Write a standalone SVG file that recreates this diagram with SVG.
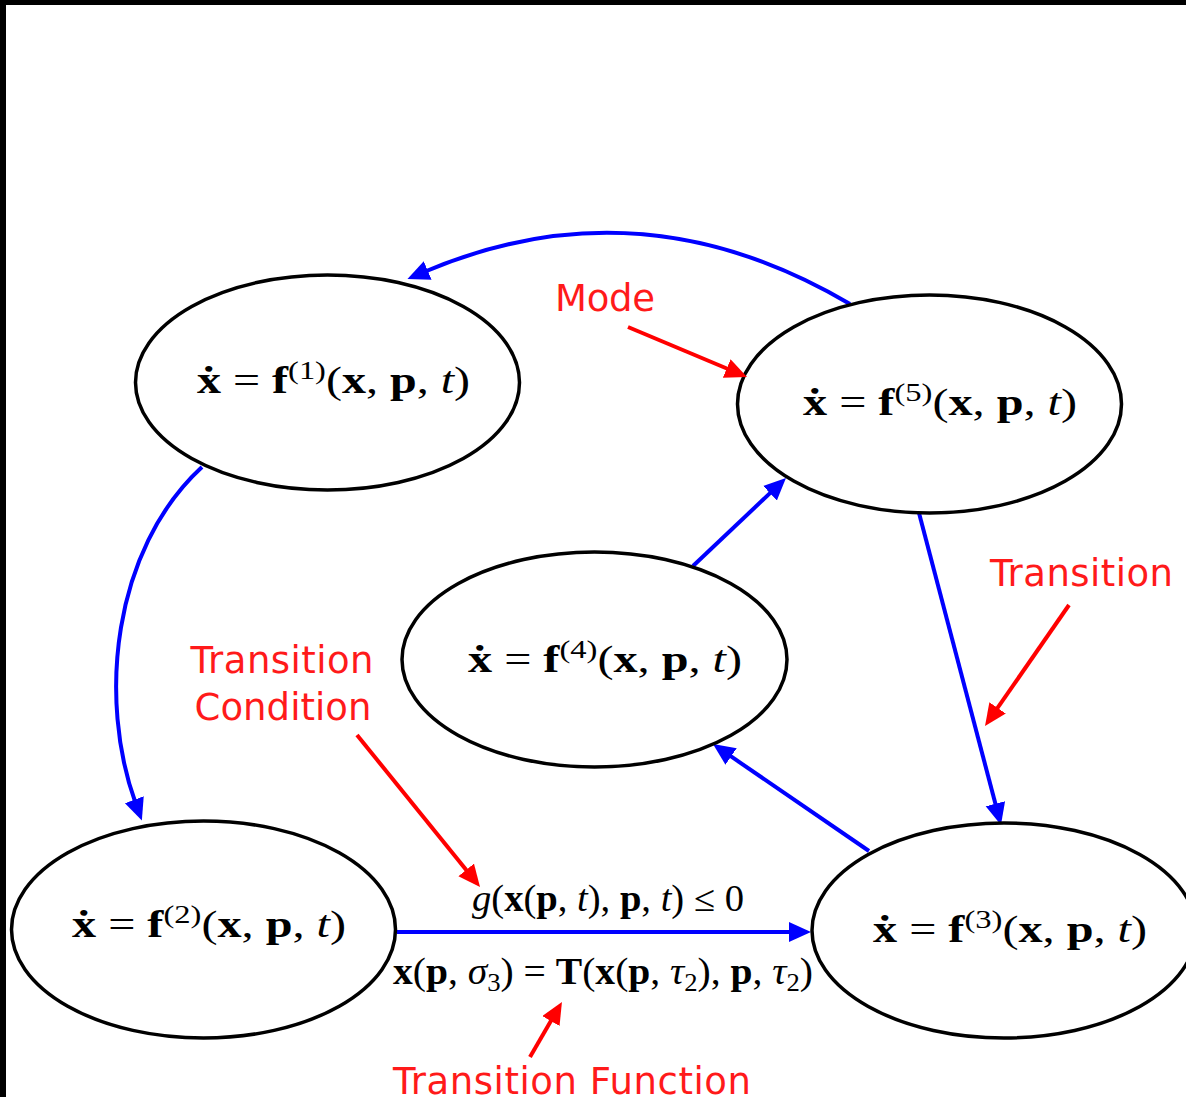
<svg xmlns="http://www.w3.org/2000/svg" width="1186" height="1097" viewBox="0 0 1186 1097">
<style>
.node ellipse{fill:#fff;stroke:#000;stroke-width:3.5}
.math{font-family:"Liberation Serif","DejaVu Serif",serif;font-size:37px;fill:#000}
.b{font-weight:bold}
.i{font-style:italic}
.sup{font-size:25px}
.sub{font-size:25px}
.lbl{font-family:"DejaVu Sans",Verdana,sans-serif;font-size:37px;fill:#ff1a1a}
.edge{fill:none;stroke:#0000ff;stroke-width:4}
.note{fill:none;stroke:#ff0000;stroke-width:4}
</style>
<defs>
<marker id="ab" markerUnits="userSpaceOnUse" markerWidth="24" markerHeight="22" refX="4" refY="10" orient="auto" viewBox="0 0 24 22"><path d="M0,0 L22,10 L0,20 z" fill="#0000ff"/></marker>
<marker id="ar" markerUnits="userSpaceOnUse" markerWidth="24" markerHeight="22" refX="4" refY="10" orient="auto" viewBox="0 0 24 22"><path d="M0,0 L22,10 L0,20 z" fill="#ff0000"/></marker>
</defs>
<rect x="0" y="0" width="1186" height="1097" fill="#fff"/>
<rect x="0" y="0" width="1186" height="5" fill="#000"/>
<rect x="0" y="0" width="6" height="1097" fill="#000"/>

<g id="connectors">
<path class="edge" d="M850,304 Q640,180 424,272" marker-end="url(#ab)"/>
<path class="edge" d="M202,467 C112,550 98,700 135.7,803.5" marker-end="url(#ab)"/>
<path class="edge" d="M397,932 L793,932" marker-end="url(#ab)"/>
<path class="edge" d="M869,851 L727.8,754.2" marker-end="url(#ab)"/>
<path class="edge" d="M693,566 L772.9,490.4" marker-end="url(#ab)"/>
<path class="edge" d="M919,513 L996.4,807.6" marker-end="url(#ab)"/>
</g>

<g id="node1" class="node"><ellipse cx="327.5" cy="382.5" rx="192" ry="107.5"/>
<text class="math" x="197" y="393" textLength="273" lengthAdjust="spacingAndGlyphs"><tspan class="b">ẋ</tspan> = <tspan class="b">f</tspan><tspan class="sup" dy="-14">(1)</tspan><tspan dy="14">(</tspan><tspan class="b">x</tspan>, <tspan class="b">p</tspan>, <tspan class="i">t</tspan>)</text></g>

<g id="node2" class="node"><ellipse cx="203.5" cy="929.5" rx="192" ry="108.5"/>
<text class="math" x="72" y="937" textLength="274" lengthAdjust="spacingAndGlyphs"><tspan class="b">ẋ</tspan> = <tspan class="b">f</tspan><tspan class="sup" dy="-14">(2)</tspan><tspan dy="14">(</tspan><tspan class="b">x</tspan>, <tspan class="b">p</tspan>, <tspan class="i">t</tspan>)</text></g>

<g id="node3" class="node"><ellipse cx="1004" cy="930.5" rx="192" ry="107.5"/>
<text class="math" x="873" y="942" textLength="274" lengthAdjust="spacingAndGlyphs"><tspan class="b">ẋ</tspan> = <tspan class="b">f</tspan><tspan class="sup" dy="-14">(3)</tspan><tspan dy="14">(</tspan><tspan class="b">x</tspan>, <tspan class="b">p</tspan>, <tspan class="i">t</tspan>)</text></g>

<g id="node4" class="node"><ellipse cx="594.5" cy="659.5" rx="192.5" ry="107.5"/>
<text class="math" x="468" y="672" textLength="274" lengthAdjust="spacingAndGlyphs"><tspan class="b">ẋ</tspan> = <tspan class="b">f</tspan><tspan class="sup" dy="-14">(4)</tspan><tspan dy="14">(</tspan><tspan class="b">x</tspan>, <tspan class="b">p</tspan>, <tspan class="i">t</tspan>)</text></g>

<g id="node5" class="node"><ellipse cx="929.5" cy="404" rx="192" ry="109"/>
<text class="math" x="803" y="415" textLength="274" lengthAdjust="spacingAndGlyphs"><tspan class="b">ẋ</tspan> = <tspan class="b">f</tspan><tspan class="sup" dy="-14">(5)</tspan><tspan dy="14">(</tspan><tspan class="b">x</tspan>, <tspan class="b">p</tspan>, <tspan class="i">t</tspan>)</text></g>

<g id="edge-labels">
<text class="math" x="472" y="911" textLength="272" lengthAdjust="spacingAndGlyphs"><tspan class="i">g</tspan>(<tspan class="b">x</tspan>(<tspan class="b">p</tspan>, <tspan class="i">t</tspan>), <tspan class="b">p</tspan>, <tspan class="i">t</tspan>) ≤ 0</text>
<text class="math" x="393" y="984" textLength="420" lengthAdjust="spacingAndGlyphs"><tspan class="b">x</tspan>(<tspan class="b">p</tspan>, <tspan class="i">σ</tspan><tspan class="sub" dy="7">3</tspan><tspan dy="-7">) = </tspan><tspan class="b">T</tspan>(<tspan class="b">x</tspan>(<tspan class="b">p</tspan>, <tspan class="i">τ</tspan><tspan class="sub" dy="7">2</tspan><tspan dy="-7">), </tspan><tspan class="b">p</tspan>, <tspan class="i">τ</tspan><tspan class="sub" dy="7">2</tspan><tspan dy="-7">)</tspan></text>
</g>

<g id="annotations">
<text class="lbl" x="555" y="311" textLength="100">Mode</text>
<path class="note" d="M628,327 L730.4,370" marker-end="url(#ar)"/>
<text class="lbl" x="990" y="586" textLength="183">Transition</text>
<path class="note" d="M1069,605 L995.3,711.2" marker-end="url(#ar)"/>
<text class="lbl" x="282" y="673" text-anchor="middle" textLength="183">Transition</text>
<text class="lbl" x="283" y="720" text-anchor="middle" textLength="177">Condition</text>
<path class="note" d="M357,735 L468.7,873" marker-end="url(#ar)"/>
<text class="lbl" x="393" y="1094" textLength="358">Transition Function</text>
<path class="note" d="M530,1057 L552.9,1017.6" marker-end="url(#ar)"/>
</g>
</svg>
